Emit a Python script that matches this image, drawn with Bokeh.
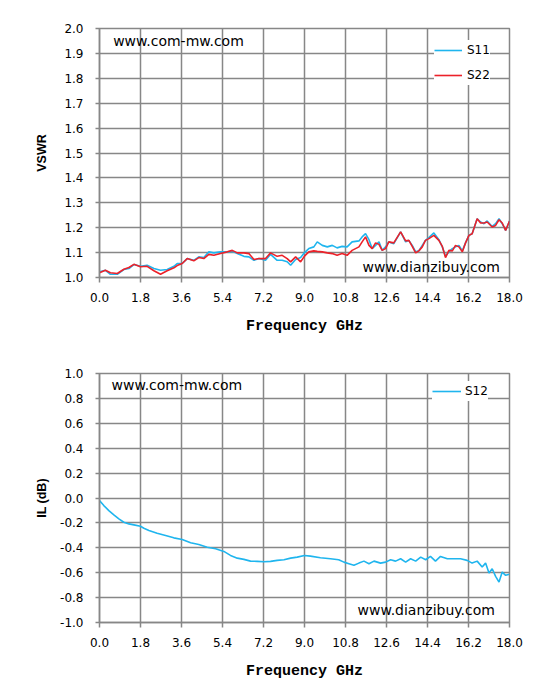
from bokeh.plotting import figure
from bokeh.models import FixedTicker, PrintfTickFormatter, Label, Legend, LegendItem, Range1d
from bokeh.layouts import column
from bokeh.embed import file_html
from bokeh.resources import INLINE

# ---- data ----
freq_vswr = [0.00, 0.26, 0.48, 0.78, 1.07, 1.29, 1.51, 1.80, 2.09, 2.39,
             2.68, 2.97, 3.27, 3.41, 3.63, 3.85, 4.14, 4.36, 4.58, 4.80,
             5.02, 5.31, 5.61, 5.83, 6.05, 6.34, 6.56, 6.78, 7.00, 7.29,
             7.51, 7.80, 8.02, 8.24, 8.39, 8.61, 8.83,
             9.00, 9.19, 9.41, 9.56, 9.78, 10.00, 10.22, 10.43, 10.65, 10.87,
             11.09, 11.39, 11.53, 11.68, 11.83, 11.97, 12.12, 12.27, 12.41, 12.56,
             12.70, 12.92, 13.22, 13.44, 13.58, 13.73, 13.88, 14.02, 14.17, 14.31,
             14.46, 14.68, 14.90, 15.05, 15.19, 15.34, 15.49, 15.63, 15.78, 15.93,
             16.07, 16.22, 16.36, 16.58, 16.73, 16.88, 17.02, 17.24, 17.39, 17.54,
             17.68, 17.83, 18.00]
s11 = [1.023, 1.029, 1.013, 1.013, 1.032, 1.036, 1.052, 1.045, 1.049, 1.036,
       1.029, 1.032, 1.045, 1.056, 1.056, 1.076, 1.069, 1.083, 1.080, 1.103,
       1.099, 1.103, 1.103, 1.105, 1.096, 1.085, 1.083, 1.069, 1.076, 1.069,
       1.093, 1.069, 1.069, 1.063, 1.049, 1.072, 1.080,
       1.100, 1.116, 1.123, 1.143, 1.129, 1.123, 1.129, 1.119, 1.125, 1.123,
       1.143, 1.147, 1.163, 1.176, 1.152, 1.116, 1.129, 1.143, 1.109, 1.123,
       1.143, 1.136, 1.183, 1.143, 1.149, 1.129, 1.103, 1.107, 1.129, 1.149,
       1.160, 1.179, 1.152, 1.123, 1.085, 1.103, 1.116, 1.123, 1.129, 1.107,
       1.139, 1.169, 1.176, 1.236, 1.223, 1.216, 1.227, 1.205, 1.216, 1.236,
       1.216, 1.189, 1.227]
s22 = [1.019, 1.029, 1.019, 1.016, 1.033, 1.040, 1.053, 1.043, 1.045, 1.027,
       1.013, 1.027, 1.039, 1.048, 1.056, 1.076, 1.067, 1.080, 1.076, 1.093,
       1.089, 1.096, 1.103, 1.109, 1.099, 1.099, 1.096, 1.072, 1.076, 1.076,
       1.099, 1.085, 1.089, 1.076, 1.063, 1.083, 1.063,
       1.086, 1.103, 1.107, 1.105, 1.103, 1.099, 1.096, 1.089, 1.096, 1.089,
       1.109, 1.123, 1.143, 1.163, 1.129, 1.116, 1.139, 1.133, 1.109, 1.116,
       1.143, 1.139, 1.183, 1.147, 1.149, 1.125, 1.099, 1.107, 1.123, 1.149,
       1.156, 1.169, 1.149, 1.125, 1.080, 1.109, 1.107, 1.129, 1.123, 1.103,
       1.139, 1.169, 1.176, 1.236, 1.219, 1.219, 1.223, 1.203, 1.209, 1.232,
       1.219, 1.189, 1.227]

freq_il = [0.00, 0.19, 0.41, 0.63, 0.85, 1.07, 1.29, 1.51, 1.80, 1.95,
           2.17, 2.53, 2.90, 3.26, 3.63, 4.00, 4.36, 4.73, 5.10, 5.46,
           5.75, 6.05, 6.34, 6.63, 6.93, 7.22, 7.51, 7.80, 8.10, 8.39,
           8.68, 9.00, 9.26, 9.70, 10.14, 10.50, 10.73, 10.95, 11.17, 11.39,
           11.61, 11.83, 12.05, 12.34, 12.56, 12.78, 13.00, 13.22, 13.44, 13.66,
           13.88, 14.10, 14.32, 14.53, 14.75, 14.97, 15.27, 15.56, 15.85, 16.14,
           16.36, 16.58, 16.80, 16.95, 17.10, 17.24, 17.39, 17.54, 17.68, 17.83,
           18.00]
s12 = [-0.021, -0.061, -0.101, -0.136, -0.168, -0.195, -0.208, -0.216, -0.227, -0.243,
       -0.261, -0.283, -0.301, -0.320, -0.333, -0.360, -0.373, -0.395, -0.408, -0.429,
       -0.461, -0.483, -0.493, -0.507, -0.509, -0.512, -0.509, -0.501, -0.496, -0.483,
       -0.475, -0.462, -0.467, -0.480, -0.488, -0.496, -0.515, -0.528, -0.541, -0.523,
       -0.507, -0.528, -0.507, -0.523, -0.515, -0.496, -0.507, -0.488, -0.515, -0.488,
       -0.507, -0.475, -0.496, -0.469, -0.507, -0.469, -0.488, -0.488, -0.488, -0.501,
       -0.523, -0.507, -0.555, -0.523, -0.603, -0.568, -0.629, -0.675, -0.595, -0.621,
       -0.613]

x_ticks = [0.0, 1.8, 3.6, 5.4, 7.2, 9.0, 10.8, 12.6, 14.4, 16.2, 18.0]
vswr_ticks = [1.0, 1.1, 1.2, 1.3, 1.4, 1.5, 1.6, 1.7, 1.8, 1.9, 2.0]
il_ticks = [-1.0, -0.8, -0.6, -0.4, -0.2, 0.0, 0.2, 0.4, 0.6, 0.8, 1.0]

GRID = "#878787"
TICK_FONT = "DejaVu Sans"
BLUE = "#1FB5EE"
RED = "#EC2129"


def make_fig(height, border_top, border_bottom, yr, yticks, ylabel, ylabel_standoff):
    p = figure(width=525, height=height,
               x_range=Range1d(0, 18), y_range=Range1d(yr[0], yr[1]),
               output_backend="svg", toolbar_location=None,
               min_border_left=99, min_border_right=16,
               min_border_top=border_top, min_border_bottom=border_bottom,
               background_fill_color="white", border_fill_color="white")
    p.outline_line_color = GRID
    p.outline_line_width = 1.5
    p.xaxis.ticker = FixedTicker(ticks=x_ticks)
    p.yaxis.ticker = FixedTicker(ticks=yticks)
    p.xaxis.formatter = PrintfTickFormatter(format="%.1f")
    p.yaxis.formatter = PrintfTickFormatter(format="%.1f")
    for ax in (p.xaxis, p.yaxis):
        ax.axis_line_color = GRID
        ax.axis_line_width = 1.5
        ax.major_tick_line_color = GRID
        ax.major_tick_line_width = 1.5
        ax.major_tick_in = 0
        ax.minor_tick_line_color = None
        ax.major_label_text_font = TICK_FONT
        ax.major_label_text_font_size = "12px"
        ax.major_label_text_color = "black"
        ax.axis_label_text_color = "black"
        ax.axis_label_text_font_style = "bold"
    p.xaxis.major_tick_out = 5
    p.yaxis.major_tick_out = 4
    p.xaxis.major_label_standoff = 10
    p.yaxis.major_label_standoff = 12
    p.xaxis.axis_label = "Frequency GHz"
    p.xaxis.axis_label_text_font = "Liberation Mono"
    p.xaxis.axis_label_text_font_size = "15px"
    p.xaxis.axis_label_standoff = 13
    p.yaxis.axis_label = ylabel
    p.yaxis.axis_label_text_font = "Liberation Sans"
    p.yaxis.axis_label_text_font_size = "12.5px"
    p.yaxis.axis_label_standoff = ylabel_standoff
    p.xgrid.grid_line_color = GRID
    p.ygrid.grid_line_color = GRID
    p.xgrid.grid_line_width = 1.5
    p.ygrid.grid_line_width = 1.5
    return p


def style_legend(lg, pad, h, gw, standoff, spacing):
    lg.background_fill_color = "white"
    lg.background_fill_alpha = 1.0
    lg.border_line_color = None
    lg.padding = pad
    lg.spacing = spacing
    lg.margin = 0
    lg.label_height = h
    lg.glyph_height = h
    lg.glyph_width = gw
    lg.label_standoff = standoff
    lg.label_text_font = TICK_FONT
    lg.label_text_font_size = "12px"
    lg.label_text_color = "black"


# ---- top chart: VSWR ----
p1 = make_fig(345, 28, 68, (1.0, 2.0), vswr_ticks, "VSWR", 12)
r11 = p1.line(freq_vswr, s11, line_color=BLUE, line_width=1.6)
r22 = p1.line(freq_vswr, s22, line_color=RED, line_width=1.6)
lg1 = Legend(items=[LegendItem(label="S11", renderers=[r11]),
                    LegendItem(label="S22", renderers=[r22])],
             location=(335, 192))
style_legend(lg1, 6, 20, 28, 5, 5)
p1.add_layout(lg1)
p1.add_layout(Label(x=0.6, y=1.948, text="www.com-mw.com", text_baseline="middle",
                    text_font=TICK_FONT, text_font_size="14px", text_color="black"))
p1.add_layout(Label(x=11.55, y=1.043, text="www.dianzibuy.com", text_baseline="middle",
                    text_font=TICK_FONT, text_font_size="14px", text_color="black"))

# ---- bottom chart: IL ----
p2 = make_fig(345, 28, 68, (-1.0, 1.0), il_ticks, "IL (dB)", 8)
r12 = p2.line(freq_il, s12, line_color=BLUE, line_width=1.6)
lg2 = Legend(items=[LegendItem(label="S12", renderers=[r12])], location=(333, 221))
style_legend(lg2, 6, 20, 29, 4, 5)
p2.add_layout(lg2)
p2.add_layout(Label(x=0.53, y=0.91, text="www.com-mw.com", text_baseline="middle",
                    text_font=TICK_FONT, text_font_size="14px", text_color="black"))
p2.add_layout(Label(x=11.33, y=-0.896, text="www.dianzibuy.com", text_baseline="middle",
                    text_font=TICK_FONT, text_font_size="14px", text_color="black"))

layout = column(p1, p2)
open("out.html", "w").write(file_html(layout, INLINE))
